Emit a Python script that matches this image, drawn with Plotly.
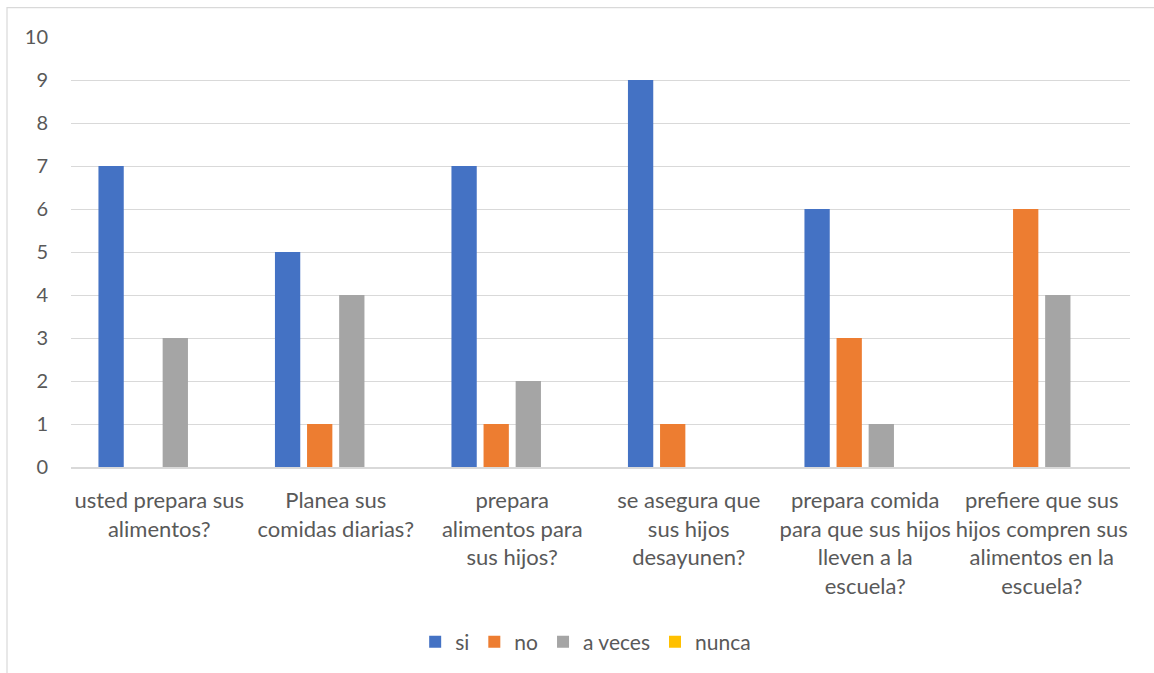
import plotly.graph_objects as go

# Survey questions (x-axis categories, with manual line breaks)
categories = [
    "usted prepara sus<br>alimentos?",
    "Planea sus<br>comidas diarias?",
    "prepara<br>alimentos para<br>sus hijos?",
    "se asegura que<br>sus hijos<br>desayunen?",
    "prepara comida<br>para que sus hijos<br>lleven a la<br>escuela?",
    "prefiere que sus<br>hijos compren sus<br>alimentos en la<br>escuela?",
]

# Number of answers per option
si = [7, 5, 7, 9, 6, 0]
no = [0, 1, 1, 1, 3, 6]
a_veces = [3, 4, 2, 0, 1, 4]
nunca = [0, 0, 0, 0, 0, 0]

y_ticks = list(range(0, 11))

series = [
    ("si", si, "#4472C4"),
    ("no", no, "#ED7D31"),
    ("a veces", a_veces, "#A5A5A5"),
    ("nunca", nunca, "#FFC000"),
]

fig = go.Figure()
for name, vals, color in series:
    fig.add_trace(go.Bar(x=categories, y=vals, name=name,
                         marker=dict(color=color, line=dict(width=0))))

W, H = 1154, 673
ml, mr, mt, mb = 71, 24, 37, 205
pw, ph = W - ml - mr, H - mt - mb

def px_x(p):
    return (p - ml) / pw

def px_y(p):
    return (H - mb - p) / ph

text_color = "#595959"
font_family = "Lato, 'Open Sans', sans-serif"

fig.update_layout(
    width=W, height=H,
    margin=dict(l=ml, r=mr, t=mt, b=mb),
    paper_bgcolor="white", plot_bgcolor="white",
    barmode="group", bargap=0.2725, bargroupgap=0.212,
    font=dict(family=font_family, size=22, color=text_color),
    showlegend=True,
    legend=dict(orientation="h", x=0.486, xanchor="center",
                y=px_y(642), yanchor="middle",
                font=dict(size=21, color=text_color),
                itemwidth=30, traceorder="normal"),
    xaxis=dict(showgrid=False, showline=True, linecolor="#D9D9D9", linewidth=1.5,
               ticks="", tickfont=dict(size=22, color=text_color),
               ticklabelstandoff=13, tickangle=0, fixedrange=True),
    yaxis=dict(range=[0, 10], tickvals=y_ticks, showgrid=True,
               gridcolor="#D9D9D9", gridwidth=1.3, zeroline=False,
               showline=False, ticks="", ticklabelstandoff=22,
               tickfont=dict(size=20, color=text_color), fixedrange=True),
    shapes=[dict(type="rect", xref="paper", yref="paper",
                 x0=px_x(7), x1=px_x(1170), y0=px_y(690), y1=px_y(7.5),
                 line=dict(color="#D9D9D9", width=1.2), layer="below")],
)

fig.write_html("out.html")
